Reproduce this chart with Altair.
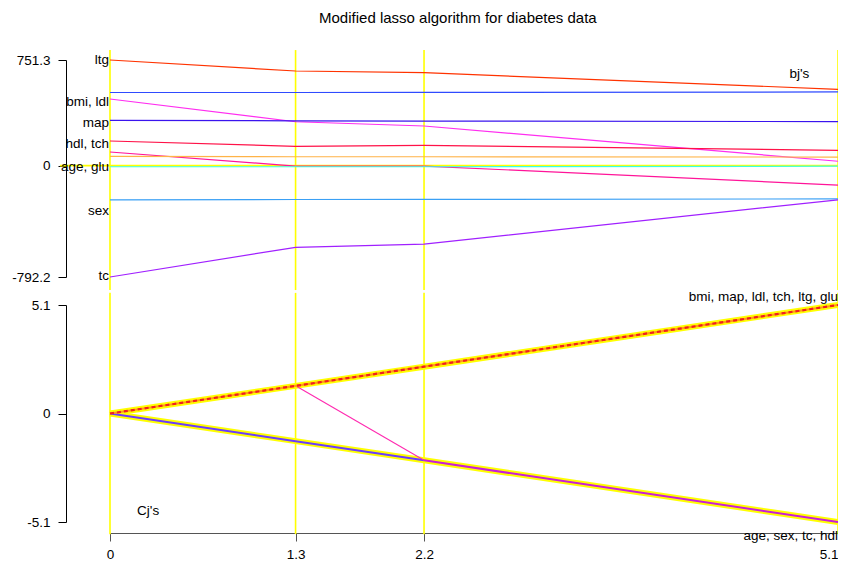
import altair as alt
import pandas as pd

FONT = "Liberation Sans"
FS = 13.5

# ---- data -------------------------------------------------------------
steps = [0, 1.3, 2.2, 5.1]

# coefficient paths (b_j's)
coef_names = ["ltg", "ldl", "bmi", "map", "hdl", "tch", "glu", "age", "sex", "tc"]
coef_colors = ["#FF3300", "#2F4BFF", "#FF2EF0", "#3A14EE", "#FF1248",
               "#FF1499", "#FFB347", "#3DFFE0", "#3AA0F5", "#A020FF"]
b_ltg = [751.3, 673, 661, 543]
b_ldl = [520, 520, 521, 524]
b_bmi = [474, 312, 282, 31]
b_map = [322, 319, 317, 313]
b_hdl = [175, 137, 144, 109]
b_tch = [97, -3, -3, -138]
b_glu = [66, 63, 63, 61]
b_age = [-8, -8, -8, -4]
b_sex = [-243, -241, -240, -237]
b_tc = [-792.2, -581, -558, -243]
coef_values = [b_ltg, b_ldl, b_bmi, b_map, b_hdl, b_tch, b_glu, b_age, b_sex, b_tc]

# variable labels at the start of the paths
left_labels = ["ltg", "bmi, ldl", "map", "hdl, tch", "age, glu", "sex", "tc"]
left_label_y = [751, 452, 301, 151, -8, -321, -783]

# correlation paths (C_j's)
C_up = [0, 1.3, 2.2, 5.1]
C_down = [0, -1.3, -2.2, -5.1]
C_hdl = [0, 1.3, -2.2, -5.1]

top_ticks = [-792.2, 0, 751.3]
bot_ticks = [-5.1, 0, 5.1]
top_extent = [-885, 822]
bot_extent = [-5.67, 5.67]

W, H = 728, 217
xscale = alt.Scale(domain=[0, 5.1], nice=False, zero=False)

# ---- upper panel -------------------------------------------------------
rows = []
for n, vals in zip(coef_names, coef_values):
    for i, (s, v) in enumerate(zip(steps, vals)):
        rows.append({"var": n, "step": s, "b": v, "order": i})
coef_df = pd.DataFrame(rows)

ytop = alt.Scale(domain=[top_ticks[0], top_ticks[-1]], nice=False, zero=False)

vr_top = alt.Chart(pd.DataFrame({"step": steps, "lo": top_extent[0], "hi": top_extent[1]})).mark_rule(
    color="#FFFF00", strokeWidth=1.6, clip=False
).encode(
    x=alt.X("step:Q", scale=xscale, axis=None),
    y=alt.Y("lo:Q", scale=ytop,
            axis=alt.Axis(values=top_ticks, labelExpr="'' + datum.value", title=None, grid=False,
                          offset=44, tickSize=8, labelPadding=8, domainColor="#000", tickColor="#000",
                          labelFontSize=FS, labelFont=FONT, labelColor="#000")),
    y2="hi:Q",
)

zero_line = alt.Chart(pd.DataFrame({"x0": [-0.35], "x1": [5.1], "y": [0]})).mark_rule(
    color="#FFFF00", strokeWidth=1.6, clip=False
).encode(x=alt.X("x0:Q", scale=xscale), x2="x1:Q", y=alt.Y("y:Q", scale=ytop))

coef_lines = alt.Chart(coef_df).mark_line(strokeWidth=1.2, clip=False).encode(
    x=alt.X("step:Q", scale=xscale),
    y=alt.Y("b:Q", scale=ytop),
    color=alt.Color("var:N", scale=alt.Scale(domain=coef_names, range=coef_colors), legend=None),
    detail="var:N",
    order="order:O",
)

lab_top = alt.Chart(pd.DataFrame({"t": left_labels, "y": left_label_y, "x": 0.0})).mark_text(
    align="right", baseline="middle", dx=-1, fontSize=FS, font=FONT, color="#000"
).encode(x=alt.X("x:Q", scale=xscale), y=alt.Y("y:Q", scale=ytop), text="t:N")

bjs = alt.Chart(pd.DataFrame({"t": ["bj's"], "x": [4.83], "y": [652]})).mark_text(
    align="center", baseline="middle", fontSize=FS, font=FONT, color="#000"
).encode(x=alt.X("x:Q", scale=xscale), y=alt.Y("y:Q", scale=ytop), text="t:N")

top = alt.layer(vr_top, zero_line, coef_lines, lab_top, bjs).properties(width=W, height=H)

# ---- lower panel -------------------------------------------------------
ybot = alt.Scale(domain=[bot_ticks[0], bot_ticks[-1]], nice=False, zero=False)

path_rows = []
for name, vals in [("up", C_up), ("down", C_down), ("hdl", C_hdl)]:
    for i, (s, v) in enumerate(zip(steps, vals)):
        path_rows.append({"path": name, "step": s, "C": v, "order": i})
cdf = pd.DataFrame(path_rows)

vr_bot = alt.Chart(pd.DataFrame({"step": steps, "lo": bot_extent[0], "hi": bot_extent[1]})).mark_rule(
    color="#FFFF00", strokeWidth=1.6, clip=False
).encode(
    x=alt.X("step:Q", scale=xscale,
            axis=alt.Axis(values=steps, labelExpr="'' + datum.value", title=None, grid=False,
                          offset=11, tickSize=8, labelPadding=6, domainColor="#555", tickColor="#555",
                          labelFontSize=FS, labelFont=FONT, labelColor="#000", labelFlush=False,
                          labelAlign={"condition": {"test": "datum.value == 5.1", "value": "right"},
                                      "value": "center"})),
    y=alt.Y("lo:Q", scale=ybot,
            axis=alt.Axis(values=bot_ticks, labelExpr="'' + datum.value", title=None, grid=False,
                          offset=44, tickSize=8, labelPadding=8, domainColor="#000", tickColor="#000",
                          labelFontSize=FS, labelFont=FONT, labelColor="#000")),
    y2="hi:Q",
)

def cpath(name, color, width, dash=None, lo=None, hi=None):
    kw = dict(color=color, strokeWidth=width, clip=False)
    if dash:
        kw["strokeDash"] = dash
    base = alt.Chart(cdf).transform_filter(alt.datum.path == name)
    if lo is not None:
        base = base.transform_filter(alt.datum.step >= lo)
    if hi is not None:
        base = base.transform_filter(alt.datum.step <= hi)
    return base.mark_line(**kw).encode(
        x=alt.X("step:Q", scale=xscale), y=alt.Y("C:Q", scale=ybot), order="order:O"
    )

hl_up = cpath("up", "#FFFF00", 6)
hl_down = cpath("down", "#FFFF00", 6)
down_line = cpath("down", "#6A3CFF", 2, hi=2.2)
hdl_thin = cpath("hdl", "#FF2AB0", 1.1, lo=1.3, hi=2.2)
hdl_thick = cpath("hdl", "#C81ED8", 2, lo=2.2)
up_solid = cpath("up", "#FF9A1A", 2.2)
up_dash = cpath("up", "#F02020", 2.2, [4, 3])

txt_df = pd.DataFrame({
    "t": ["bmi, map, ldl, tch, ltg, glu", "age, sex, tc, hdl"],
    "x": [5.1, 5.1],
    "y": [5.48, -5.76],
})
txt_right = alt.Chart(txt_df).mark_text(
    align="right", baseline="middle", fontSize=FS, font=FONT, color="#000"
).encode(x=alt.X("x:Q", scale=xscale), y=alt.Y("y:Q", scale=ybot), text="t:N")

cjs = alt.Chart(pd.DataFrame({"t": ["Cj's"], "x": [0.19], "y": [-4.58]})).mark_text(
    align="left", baseline="middle", fontSize=FS, font=FONT, color="#000"
).encode(x=alt.X("x:Q", scale=xscale), y=alt.Y("y:Q", scale=ybot), text="t:N")

bottom = alt.layer(vr_bot, hl_up, hl_down, down_line, hdl_thin, hdl_thick, up_solid, up_dash,
                   txt_right, cjs).properties(width=W, height=H)

PL, PT = 102, 52
chart = alt.vconcat(top, bottom, spacing=28, bounds="flush").properties(
    title=alt.TitleParams("Modified lasso algorithm for diabetes data", fontSize=15,
                          fontWeight="normal", font=FONT, anchor="middle", color="#000",
                          offset=23, dx=27),
    padding={"left": PL, "top": PT, "right": 0, "bottom": 557 - PT},
    autosize=alt.AutoSizeParams(type="none"),
).configure_view(stroke=None)

chart.save("out.html", embed_options={"renderer": "svg", "actions": False})
